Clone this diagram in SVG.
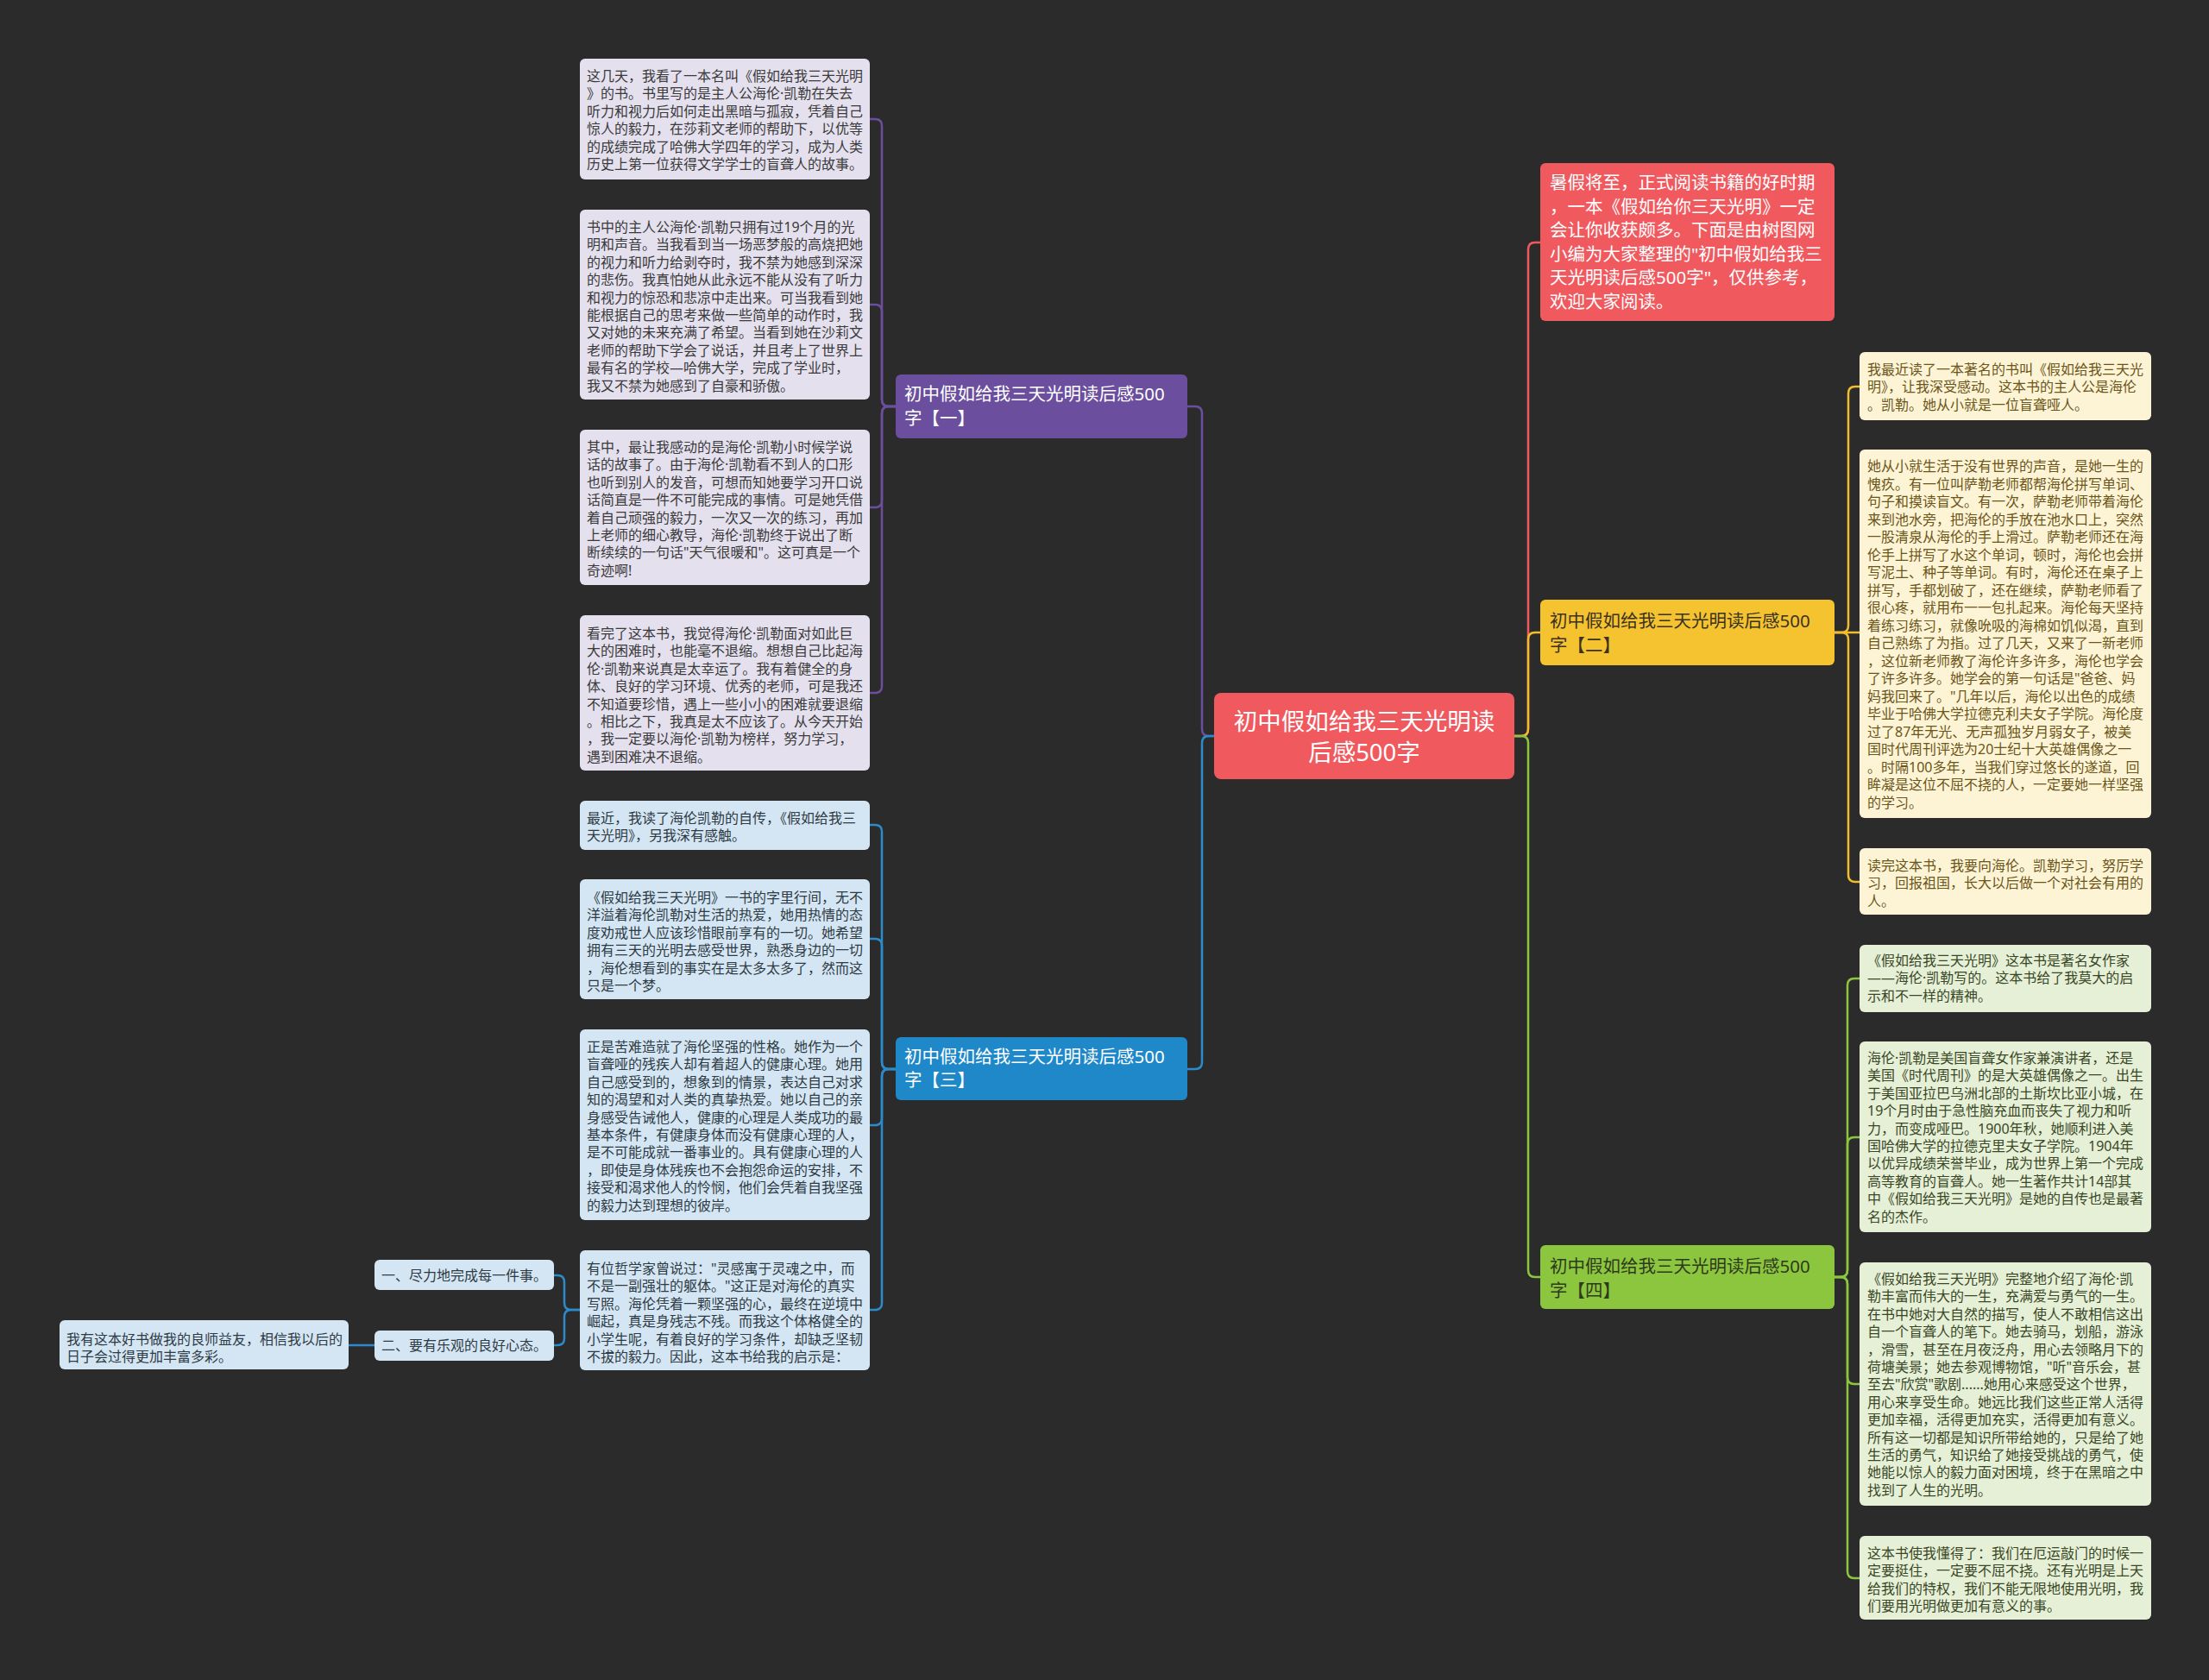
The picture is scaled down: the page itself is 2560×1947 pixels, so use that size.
<svg xmlns="http://www.w3.org/2000/svg" width="2560" height="1947" viewBox="0 0 2560 1947">
<style>
text{font-family:"Noto Sans","Noto Sans CJK SC",sans-serif;}
.lf{font-size:16px;}
.br{font-size:20.5px;}
.pl{fill:#e4e0ee;}
.bl{fill:#d4e6f3;}
.yl{fill:#fdf4d6;}
.gl{fill:#e5f0d6;}
.pt{fill:#3a3a3a;}
.bt{fill:#2e3a44;}
.yt{fill:#6b5518;}
.gt{fill:#3a4727;}
.c{fill:none;stroke-width:2.5;}
.cp{stroke:#6b4f9e;}
.cb{stroke:#2b8bcc;}
.cr{stroke:#f05a5f;}
.cy{stroke:#f2bd2c;}
.cg{stroke:#8cc63f;}
</style>
<rect width="2560" height="1947" fill="#2b2b2b"/>

<g id="connectors">
<path class="c cp" d="M1407 853 H1401 Q1393 853 1393 845 V479 Q1393 471 1385 471 H1376"/>
<path class="c cb" d="M1407 853 H1401 Q1393 853 1393 861 V1231 Q1393 1239 1385 1239 H1376"/>
<path class="c cr" d="M1755 853 H1763 Q1771 853 1771 845 V289 Q1771 281 1779 281 H1785"/>
<path class="c cy" d="M1755 853 H1763 Q1771 853 1771 845 V741 Q1771 733 1779 733 H1785"/>
<path class="c cg" d="M1755 853 H1763 Q1771 853 1771 861 V1472 Q1771 1480 1779 1480 H1785"/>

<path class="c cp" d="M1038 471 H1030 Q1022 471 1022 463 V146 Q1022 138 1014 138 H1008"/>
<path class="c cp" d="M1038 471 H1030 Q1022 471 1022 463 V361 Q1022 353 1014 353 H1008"/>
<path class="c cp" d="M1038 471 H1030 Q1022 471 1022 479 V580 Q1022 588 1014 588 H1008"/>
<path class="c cp" d="M1038 471 H1030 Q1022 471 1022 479 V795 Q1022 803 1014 803 H1008"/>

<path class="c cb" d="M1038 1239 H1030 Q1022 1239 1022 1231 V964 Q1022 956 1014 956 H1008"/>
<path class="c cb" d="M1038 1239 H1030 Q1022 1239 1022 1231 V1096 Q1022 1088 1014 1088 H1008"/>
<path class="c cb" d="M1038 1239 H1030 Q1022 1239 1022 1247 V1296 Q1022 1304 1014 1304 H1008"/>
<path class="c cb" d="M1038 1239 H1030 Q1022 1239 1022 1247 V1510 Q1022 1518 1014 1518 H1008"/>

<path class="c cb" d="M672 1518 H662 Q654 1518 654 1510 V1486 Q654 1478 646 1478 H642"/>
<path class="c cb" d="M672 1518 H662 Q654 1518 654 1526 V1551 Q654 1559 646 1559 H642"/>
<path class="c cb" d="M434 1559 H404"/>

<path class="c cy" d="M2126 733 H2134 Q2142 733 2142 725 V456 Q2142 448 2150 448 H2155"/>
<path class="c cy" d="M2126 733 H2155"/>
<path class="c cy" d="M2126 733 H2134 Q2142 733 2142 741 V1014 Q2142 1022 2150 1022 H2155"/>

<path class="c cg" d="M2126 1480 H2133 Q2141 1480 2141 1472 V1142 Q2141 1134 2149 1134 H2155"/>
<path class="c cg" d="M2126 1480 H2133 Q2141 1480 2141 1472 V1326 Q2141 1318 2149 1318 H2155"/>
<path class="c cg" d="M2126 1480 H2133 Q2141 1480 2141 1488 V1596 Q2141 1604 2149 1604 H2155"/>
<path class="c cg" d="M2126 1480 H2133 Q2141 1480 2141 1488 V1821 Q2141 1829 2149 1829 H2155"/>
</g>

<g id="center">
<rect x="1407" y="803" width="348" height="100" rx="8" fill="#f05a5f"/>
<text x="1581" y="846" font-size="27.5" fill="#ffffff" text-anchor="middle">初中假如给我三天光明读</text>
<text x="1581" y="882" font-size="27.5" fill="#ffffff" text-anchor="middle">后感500字</text>
</g>

<g id="intro">
<rect x="1785" y="189" width="341" height="183" rx="6" fill="#f05a5f"/>
<text class="br" fill="#ffffff"><tspan x="1796" y="219">暑假将至，正式阅读书籍的好时期</tspan><tspan x="1796" y="246.5">，一本《假如给你三天光明》一定</tspan><tspan x="1796" y="274">会让你收获颇多。下面是由树图网</tspan><tspan x="1796" y="301.5">小编为大家整理的"初中假如给我三</tspan><tspan x="1796" y="329">天光明读后感500字"，仅供参考，</tspan><tspan x="1796" y="356.5">欢迎大家阅读。</tspan></text>
</g>

<g id="branch1">
<rect x="1038" y="434" width="338" height="74" rx="6" fill="#6b4f9e"/>
<text class="br" fill="#ffffff"><tspan x="1048" y="464">初中假如给我三天光明读后感500</tspan><tspan x="1048" y="492">字【一】</tspan></text>
</g>
<g id="branch3">
<rect x="1038" y="1202" width="338" height="73" rx="6" fill="#1f88c9"/>
<text class="br" fill="#ffffff"><tspan x="1048" y="1231.5">初中假如给我三天光明读后感500</tspan><tspan x="1048" y="1259">字【三】</tspan></text>
</g>
<g id="branch2">
<rect x="1785" y="695" width="341" height="76" rx="6" fill="#f5c230"/>
<text class="br" fill="#3a3320"><tspan x="1796" y="727">初中假如给我三天光明读后感500</tspan><tspan x="1796" y="755">字【二】</tspan></text>
</g>
<g id="branch4">
<rect x="1785" y="1443" width="341" height="74" rx="6" fill="#8cc63f"/>
<text class="br" fill="#2e3a1c"><tspan x="1796" y="1475">初中假如给我三天光明读后感500</tspan><tspan x="1796" y="1503">字【四】</tspan></text>
</g>

<g id="p1">
<rect class="pl" x="672" y="68" width="336" height="140" rx="6"/>
<text class="lf pt"><tspan x="680" y="94">这几天，我看了一本名叫《假如给我三天光明</tspan><tspan x="680" y="114.4">》的书。书里写的是主人公海伦·凯勒在失去</tspan><tspan x="680" y="134.8">听力和视力后如何走出黑暗与孤寂，凭着自己</tspan><tspan x="680" y="155.2">惊人的毅力，在莎莉文老师的帮助下，以优等</tspan><tspan x="680" y="175.6">的成绩完成了哈佛大学四年的学习，成为人类</tspan><tspan x="680" y="196">历史上第一位获得文学学士的盲聋人的故事。</tspan></text>
</g>
<g id="p2">
<rect class="pl" x="672" y="243" width="336" height="220" rx="6"/>
<text class="lf pt"><tspan x="680" y="269">书中的主人公海伦·凯勒只拥有过19个月的光</tspan><tspan x="680" y="289.4">明和声音。当我看到当一场恶梦般的高烧把她</tspan><tspan x="680" y="309.8">的视力和听力给剥夺时，我不禁为她感到深深</tspan><tspan x="680" y="330.2">的悲伤。我真怕她从此永远不能从没有了听力</tspan><tspan x="680" y="350.6">和视力的惊恐和悲凉中走出来。可当我看到她</tspan><tspan x="680" y="371">能根据自己的思考来做一些简单的动作时，我</tspan><tspan x="680" y="391.4">又对她的未来充满了希望。当看到她在沙莉文</tspan><tspan x="680" y="411.8">老师的帮助下学会了说话，并且考上了世界上</tspan><tspan x="680" y="432.2">最有名的学校—哈佛大学，完成了学业时，</tspan><tspan x="680" y="452.6">我又不禁为她感到了自豪和骄傲。</tspan></text>
</g>
<g id="p3">
<rect class="pl" x="672" y="498" width="336" height="180" rx="6"/>
<text class="lf pt"><tspan x="680" y="524">其中，最让我感动的是海伦·凯勒小时候学说</tspan><tspan x="680" y="544.4">话的故事了。由于海伦·凯勒看不到人的口形</tspan><tspan x="680" y="564.8">也听到别人的发音，可想而知她要学习开口说</tspan><tspan x="680" y="585.2">话简直是一件不可能完成的事情。可是她凭借</tspan><tspan x="680" y="605.6">着自己顽强的毅力，一次又一次的练习，再加</tspan><tspan x="680" y="626">上老师的细心教导，海伦·凯勒终于说出了断</tspan><tspan x="680" y="646.4">断续续的一句话"天气很暖和"。这可真是一个</tspan><tspan x="680" y="666.8">奇迹啊!</tspan></text>
</g>
<g id="p4">
<rect class="pl" x="672" y="713" width="336" height="180" rx="6"/>
<text class="lf pt"><tspan x="680" y="740">看完了这本书，我觉得海伦·凯勒面对如此巨</tspan><tspan x="680" y="760.4">大的困难时，也能毫不退缩。想想自己比起海</tspan><tspan x="680" y="780.8">伦·凯勒来说真是太幸运了。我有着健全的身</tspan><tspan x="680" y="801.2">体、良好的学习环境、优秀的老师，可是我还</tspan><tspan x="680" y="821.6">不知道要珍惜，遇上一些小小的困难就要退缩</tspan><tspan x="680" y="842">。相比之下，我真是太不应该了。从今天开始</tspan><tspan x="680" y="862.4">，我一定要以海伦·凯勒为榜样，努力学习，</tspan><tspan x="680" y="882.8">遇到困难决不退缩。</tspan></text>
</g>

<g id="b1">
<rect class="bl" x="672" y="928" width="336" height="57" rx="6"/>
<text class="lf bt"><tspan x="680" y="954">最近，我读了海伦凯勒的自传，《假如给我三</tspan><tspan x="680" y="974.4">天光明》，另我深有感触。</tspan></text>
</g>
<g id="b2">
<rect class="bl" x="672" y="1019" width="336" height="139" rx="6"/>
<text class="lf bt"><tspan x="680" y="1046">《假如给我三天光明》一书的字里行间，无不</tspan><tspan x="680" y="1066.4">洋溢着海伦凯勒对生活的热爱，她用热情的态</tspan><tspan x="680" y="1086.8">度劝戒世人应该珍惜眼前享有的一切。她希望</tspan><tspan x="680" y="1107.2">拥有三天的光明去感受世界，熟悉身边的一切</tspan><tspan x="680" y="1127.6">，海伦想看到的事实在是太多太多了，然而这</tspan><tspan x="680" y="1148">只是一个梦。</tspan></text>
</g>
<g id="b3">
<rect class="bl" x="672" y="1193" width="336" height="221" rx="6"/>
<text class="lf bt"><tspan x="680" y="1219">正是苦难造就了海伦坚强的性格。她作为一个</tspan><tspan x="680" y="1239.4">盲聋哑的残疾人却有着超人的健康心理。她用</tspan><tspan x="680" y="1259.8">自己感受到的，想象到的情景，表达自己对求</tspan><tspan x="680" y="1280.2">知的渴望和对人类的真挚热爱。她以自己的亲</tspan><tspan x="680" y="1300.6">身感受告诫他人，健康的心理是人类成功的最</tspan><tspan x="680" y="1321">基本条件，有健康身体而没有健康心理的人，</tspan><tspan x="680" y="1341.4">是不可能成就一番事业的。具有健康心理的人</tspan><tspan x="680" y="1361.8">，即使是身体残疾也不会抱怨命运的安排，不</tspan><tspan x="680" y="1382.2">接受和渴求他人的怜悯，他们会凭着自我坚强</tspan><tspan x="680" y="1402.6">的毅力达到理想的彼岸。</tspan></text>
</g>
<g id="b4">
<rect class="bl" x="672" y="1449" width="336" height="139" rx="6"/>
<text class="lf bt"><tspan x="680" y="1476">有位哲学家曾说过："灵感寓于灵魂之中，而</tspan><tspan x="680" y="1496.4">不是一副强壮的躯体。"这正是对海伦的真实</tspan><tspan x="680" y="1516.8">写照。海伦凭着一颗坚强的心，最终在逆境中</tspan><tspan x="680" y="1537.2">崛起，真是身残志不残。而我这个体格健全的</tspan><tspan x="680" y="1557.6">小学生呢，有着良好的学习条件，却缺乏坚韧</tspan><tspan x="680" y="1578">不拔的毅力。因此，这本书给我的启示是：</tspan></text>
</g>
<g id="l1">
<rect class="bl" x="434" y="1460" width="208" height="35" rx="6"/>
<text class="lf bt" x="442" y="1483.5">一、尽力地完成每一件事。</text>
</g>
<g id="l2">
<rect class="bl" x="434" y="1542" width="208" height="35" rx="6"/>
<text class="lf bt" x="442" y="1565">二、要有乐观的良好心态。</text>
</g>
<g id="l3">
<rect class="bl" x="69" y="1530" width="335" height="57" rx="6"/>
<text class="lf bt"><tspan x="77" y="1558">我有这本好书做我的良师益友，相信我以后的</tspan><tspan x="77" y="1578.4">日子会过得更加丰富多彩。</tspan></text>
</g>

<g id="y1">
<rect class="yl" x="2155" y="408" width="338" height="79" rx="6"/>
<text class="lf yt"><tspan x="2164" y="434">我最近读了一本著名的书叫《假如给我三天光</tspan><tspan x="2164" y="454.4">明》，让我深受感动。这本书的主人公是海伦</tspan><tspan x="2164" y="474.8">。凯勒。她从小就是一位盲聋哑人。</tspan></text>
</g>
<g id="y2">
<rect class="yl" x="2155" y="521" width="338" height="427" rx="6"/>
<text class="lf yt"><tspan x="2164" y="546">她从小就生活于没有世界的声音，是她一生的</tspan><tspan x="2164" y="566.5">愧疚。有一位叫萨勒老师都帮海伦拼写单词、</tspan><tspan x="2164" y="587">句子和摸读盲文。有一次，萨勒老师带着海伦</tspan><tspan x="2164" y="607.5">来到池水旁，把海伦的手放在池水口上，突然</tspan><tspan x="2164" y="628">一股清泉从海伦的手上滑过。萨勒老师还在海</tspan><tspan x="2164" y="648.5">伦手上拼写了水这个单词，顿时，海伦也会拼</tspan><tspan x="2164" y="669">写泥土、种子等单词。有时，海伦还在桌子上</tspan><tspan x="2164" y="689.5">拼写，手都划破了，还在继续，萨勒老师看了</tspan><tspan x="2164" y="710">很心疼，就用布一一包扎起来。海伦每天坚持</tspan><tspan x="2164" y="730.5">着练习练习，就像吮吸的海棉如饥似渴，直到</tspan><tspan x="2164" y="751">自己熟练了为指。过了几天，又来了一新老师</tspan><tspan x="2164" y="771.5">，这位新老师教了海伦许多许多，海伦也学会</tspan><tspan x="2164" y="792">了许多许多。她学会的第一句话是"爸爸、妈</tspan><tspan x="2164" y="812.5">妈我回来了。"几年以后，海伦以出色的成绩</tspan><tspan x="2164" y="833">毕业于哈佛大学拉德克利夫女子学院。海伦度</tspan><tspan x="2164" y="853.5">过了87年无光、无声孤独岁月弱女子，被美</tspan><tspan x="2164" y="874">国时代周刊评选为20士纪十大英雄偶像之一</tspan><tspan x="2164" y="894.5">。时隔100多年，当我们穿过悠长的遂道，回</tspan><tspan x="2164" y="915">眸凝是这位不屈不挠的人，一定要她一样坚强</tspan><tspan x="2164" y="935.5">的学习。</tspan></text>
</g>
<g id="y3">
<rect class="yl" x="2155" y="983" width="338" height="77" rx="6"/>
<text class="lf yt"><tspan x="2164" y="1009">读完这本书，我要向海伦。凯勒学习，努厉学</tspan><tspan x="2164" y="1029.4">习，回报祖国，长大以后做一个对社会有用的</tspan><tspan x="2164" y="1049.8">人。</tspan></text>
</g>

<g id="g1">
<rect class="gl" x="2155" y="1095" width="338" height="78" rx="6"/>
<text class="lf gt"><tspan x="2164" y="1119">《假如给我三天光明》这本书是著名女作家</tspan><tspan x="2164" y="1139.4">——海伦·凯勒写的。这本书给了我莫大的启</tspan><tspan x="2164" y="1159.8">示和不一样的精神。</tspan></text>
</g>
<g id="g2">
<rect class="gl" x="2155" y="1207" width="338" height="221" rx="6"/>
<text class="lf gt"><tspan x="2164" y="1232">海伦·凯勒是美国盲聋女作家兼演讲者，还是</tspan><tspan x="2164" y="1252.4">美国《时代周刊》的是大英雄偶像之一。出生</tspan><tspan x="2164" y="1272.8">于美国亚拉巴乌洲北部的土斯坎比亚小城，在</tspan><tspan x="2164" y="1293.2">19个月时由于急性脑充血而丧失了视力和听</tspan><tspan x="2164" y="1313.6">力，而变成哑巴。1900年秋，她顺利进入美</tspan><tspan x="2164" y="1334">国哈佛大学的拉德克里夫女子学院。1904年</tspan><tspan x="2164" y="1354.4">以优异成绩荣誉毕业，成为世界上第一个完成</tspan><tspan x="2164" y="1374.8">高等教育的盲聋人。她一生著作共计14部其</tspan><tspan x="2164" y="1395.2">中《假如给我三天光明》是她的自传也是最著</tspan><tspan x="2164" y="1415.6">名的杰作。</tspan></text>
</g>
<g id="g3">
<rect class="gl" x="2155" y="1463" width="338" height="282" rx="6"/>
<text class="lf gt"><tspan x="2164" y="1488">《假如给我三天光明》完整地介绍了海伦·凯</tspan><tspan x="2164" y="1508.4">勒丰富而伟大的一生，充满爱与勇气的一生。</tspan><tspan x="2164" y="1528.8">在书中她对大自然的描写，使人不敢相信这出</tspan><tspan x="2164" y="1549.2">自一个盲聋人的笔下。她去骑马，划船，游泳</tspan><tspan x="2164" y="1569.6">，滑雪，甚至在月夜泛舟，用心去领略月下的</tspan><tspan x="2164" y="1590">荷塘美景；她去参观博物馆，"听"音乐会，甚</tspan><tspan x="2164" y="1610.4">至去"欣赏"歌剧......她用心来感受这个世界，</tspan><tspan x="2164" y="1630.8">用心来享受生命。她远比我们这些正常人活得</tspan><tspan x="2164" y="1651.2">更加幸福，活得更加充实，活得更加有意义。</tspan><tspan x="2164" y="1671.6">所有这一切都是知识所带给她的，只是给了她</tspan><tspan x="2164" y="1692">生活的勇气，知识给了她接受挑战的勇气，使</tspan><tspan x="2164" y="1712.4">她能以惊人的毅力面对困境，终于在黑暗之中</tspan><tspan x="2164" y="1732.8">找到了人生的光明。</tspan></text>
</g>
<g id="g4">
<rect class="gl" x="2155" y="1780" width="338" height="97" rx="6"/>
<text class="lf gt"><tspan x="2164" y="1806">这本书使我懂得了：我们在厄运敲门的时候一</tspan><tspan x="2164" y="1826.4">定要挺住，一定要不屈不挠。还有光明是上天</tspan><tspan x="2164" y="1846.8">给我们的特权，我们不能无限地使用光明，我</tspan><tspan x="2164" y="1867.2">们要用光明做更加有意义的事。</tspan></text>
</g>
</svg>
